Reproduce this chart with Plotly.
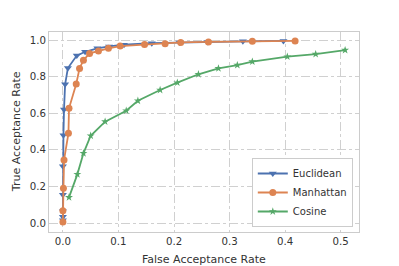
import plotly.graph_objects as go

euc_x = [0, 0, 0, 0, 0, 0.001, 0.002, 0.004, 0.009, 0.025, 0.04, 0.062, 0.083, 0.11, 0.16, 0.21, 0.26, 0.324, 0.397]
euc_y = [0.015, 0.035, 0.065, 0.155, 0.31, 0.48, 0.62, 0.758, 0.847, 0.915, 0.936, 0.955, 0.965, 0.975, 0.983, 0.987, 0.99, 0.993, 0.995]

man_x = [0, 0, 0.001, 0.002, 0.01, 0.011, 0.024, 0.03, 0.037, 0.048, 0.064, 0.082, 0.103, 0.147, 0.184, 0.212, 0.262, 0.341, 0.418]
man_y = [0.005, 0.067, 0.19, 0.344, 0.49, 0.627, 0.76, 0.845, 0.89, 0.927, 0.94, 0.955, 0.967, 0.976, 0.98, 0.987, 0.99, 0.993, 0.995]

cos_x = [0.011, 0.026, 0.037, 0.05, 0.076, 0.114, 0.135, 0.175, 0.206, 0.244, 0.28, 0.314, 0.341, 0.404, 0.455, 0.508]
cos_y = [0.14, 0.266, 0.381, 0.477, 0.554, 0.614, 0.668, 0.727, 0.767, 0.813, 0.845, 0.863, 0.882, 0.909, 0.923, 0.945]

x_ticks = [0.0, 0.1, 0.2, 0.3, 0.4, 0.5]
y_ticks = [0.0, 0.2, 0.4, 0.6, 0.8, 1.0]

fig = go.Figure()
fig.add_trace(go.Scatter(x=euc_x, y=euc_y, name="Euclidean", mode="lines+markers",
                         line=dict(color="#4C72B0", width=1.8),
                         marker=dict(symbol="triangle-down", size=7, color="#4C72B0")))
fig.add_trace(go.Scatter(x=man_x, y=man_y, name="Manhattan", mode="lines+markers",
                         line=dict(color="#DD8452", width=1.8),
                         marker=dict(symbol="circle", size=7, color="#DD8452")))
fig.add_trace(go.Scatter(x=cos_x, y=cos_y, name="Cosine", mode="lines+markers",
                         line=dict(color="#55A868", width=1.8),
                         marker=dict(symbol="star", size=6, color="#55A868")))

axis_common = dict(showgrid=True, gridcolor="#d0d0d0", griddash="dashdot", gridwidth=1,
                   showline=True, linecolor="#cccccc", linewidth=1.2, mirror=True,
                   zeroline=False, ticks="", tickfont=dict(size=10.2, color="#333333"),
                   automargin=False)

# page body has an 8px default margin, so the figure is sized to fit the window
fig.update_layout(
    width=391, height=258,
    margin=dict(l=41, r=40, t=24, b=34),
    paper_bgcolor="white", plot_bgcolor="white",
    font=dict(family="DejaVu Sans", color="#333333"),
    xaxis=dict(range=[-0.025, 0.533], tickvals=x_ticks, ticktext=["%.1f" % v for v in x_ticks],
               **axis_common),
    yaxis=dict(range=[-0.049, 1.044], tickvals=y_ticks, ticktext=["%.1f" % v for v in y_ticks],
               **axis_common),
    legend=dict(x=0.98, y=0.025, xanchor="right", yanchor="bottom",
                bordercolor="#cccccc", borderwidth=1, bgcolor="white",
                font=dict(size=10, color="#333333"), tracegroupgap=0,
                itemwidth=30),
    showlegend=True,
    annotations=[
        dict(text="False Acceptance Rate", xref="paper", yref="paper", x=0.5, y=-0.135,
             xanchor="center", yanchor="middle", showarrow=False,
             font=dict(size=11, color="#333333")),
        dict(text="True Acceptance Rate", xref="paper", yref="paper", x=-0.106, y=0.5,
             xanchor="center", yanchor="middle", textangle=-90, showarrow=False,
             font=dict(size=11, color="#333333")),
    ],
)

fig.write_html("out.html")
